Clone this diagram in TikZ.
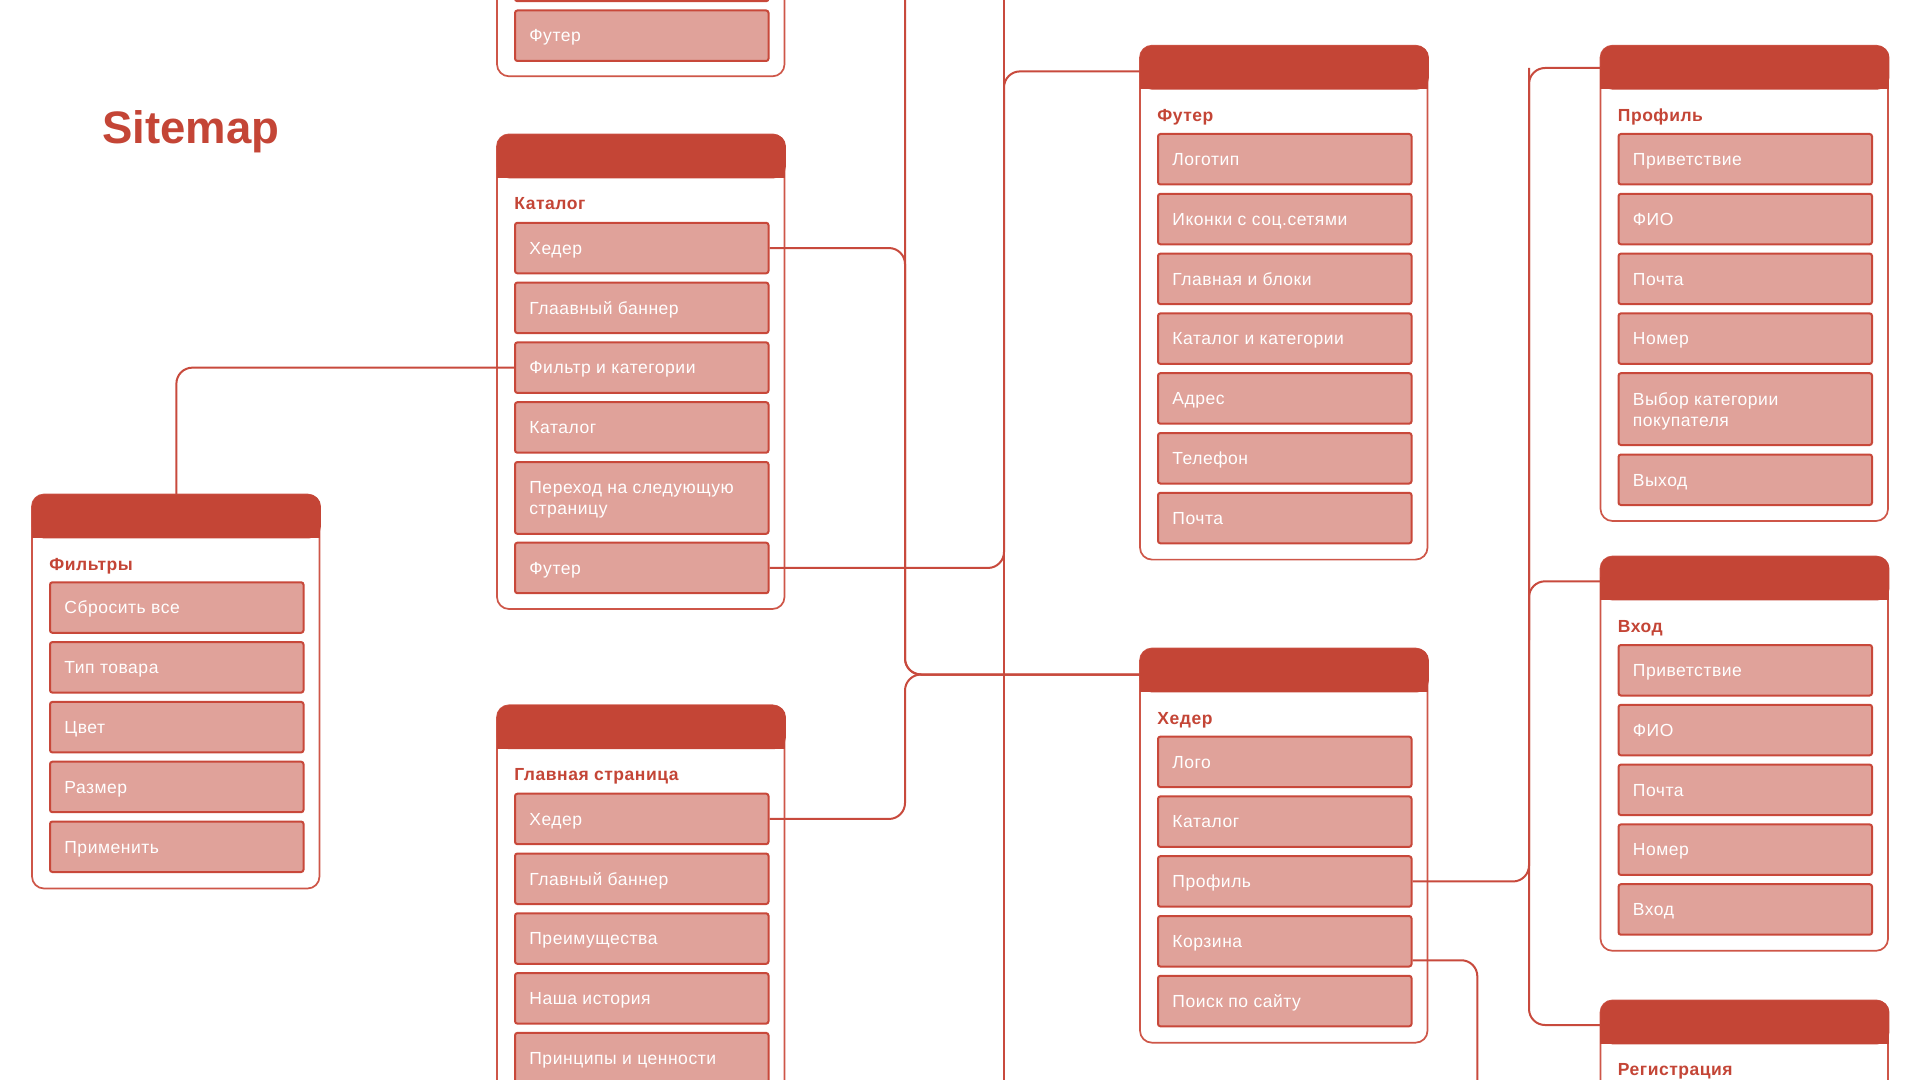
\documentclass[tikz,border=0pt]{standalone}
\usepackage{fontspec}
\setmainfont{Liberation Sans}
\newfontfamily\itemfont[LetterSpace=3]{Liberation Sans}
\definecolor{headred}{HTML}{C44536}
\definecolor{itemfill}{HTML}{E0A29A}
\definecolor{itemline}{HTML}{C8483A}
\definecolor{cardline}{HTML}{CE5648}
\definecolor{connred}{HTML}{C84A3D}
\tikzset{
 cardbody/.style={draw=cardline, fill=white, line width=0.85pt, rounded corners=6pt},
 hdr/.style={fill=headred, rounded corners=6pt, minimum width=144.5pt, minimum height=22pt, inner sep=0pt, anchor=north west},
 item/.style={draw=itemline, fill=itemfill, line width=1pt, rounded corners=1.2pt, minimum width=126.75pt, minimum height=25.25pt, inner sep=0pt, anchor=north west},
 itxt/.style={text=white, font=\itemfont\fontsize{8.75}{10.5}\selectfont, anchor=west, inner sep=0pt, text height=6.25pt, text depth=0pt},
 itxttwo/.style={text=white, font=\itemfont\fontsize{8.75}{10.5}\selectfont, anchor=west, inner sep=0pt, align=left},
 ctitle/.style={text=headred, font=\itemfont\bfseries\fontsize{8.75}{10.5}\selectfont, anchor=base west, inner sep=0pt},
 conn/.style={draw=connred, line width=1pt, rounded corners=8pt},
}
% card: #1 name, #2 x0, #3 top, #4 bottom, #5 title
\newcommand\mkcard[5]{%
  \draw[cardbody] (#2,#3) rectangle ({#2+287.5},#4);
  \node[hdr] (h#1) at ({#2-0.5},{#3-0.5}) {};
  \fill[headred] ({#2-0.5},{#3+20}) rectangle ({#2+288},{#3+43.5});
  \node[ctitle] (t#1) at ({#2+17},{#3+75.5}) {#5};}
% item: #1 name, #2 x0 of card, #3 top, #4 text
\newcommand\mkitem[4]{%
  \node[item] (#1) at ({#2+17},#3) {};
  \node[itxt] (#1t) at ([xshift=7.5pt]#1.west) {#4};}
\newcommand\mkitemtwo[4]{%
  \node[item, minimum height=35.9pt] (#1) at ({#2+17},#3) {};
  \node[itxttwo] (#1t) at ([xshift=7.5pt,yshift=-0.9pt]#1.west) {#4};}
\begin{document}
\begin{tikzpicture}[x=0.5pt,y=-0.5pt]
\useasboundingbox (0,0) rectangle (1920,1080);
\fill[white] (0,0) rectangle (1920,1080);
\clip (0,0) rectangle (1920,1080);

\node[anchor=base west, inner sep=0pt, text=headred, font=\bfseries\fontsize{22.75}{27}\selectfont] (title) at (102,144) {Sitemap};

% Filters card
\mkcard{F}{32}{494.5}{888.5}{Фильтры}
\mkitem{f1}{32}{581.3}{Сбросить все}
\mkitem{f2}{32}{641.1}{Тип товара}
\mkitem{f3}{32}{700.9}{Цвет}
\mkitem{f4}{32}{760.7}{Размер}
\mkitem{f5}{32}{820.5}{Применить}

% Top partial card
\draw[cardbody] (497,-400) rectangle (784.5,76.3);
\node[item] (b1) at (514,-50.3) {};
\mkitem{b2}{497}{9.5}{Футер}

% Catalog card
\mkcard{K}{497}{134.4}{609}{Каталог}
\mkitem{kHed}{497}{221.8}{Хедер}
\mkitem{kBan}{497}{281.6}{Глаавный баннер}
\mkitem{kFil}{497}{341.4}{Фильтр и категории}
\mkitem{kKat}{497}{401.2}{Каталог}
\mkitemtwo{kPer}{497}{461}{Переход на следующую\\страницу}
\mkitem{kFut}{497}{541.7}{Футер}

% Main page card
\mkcard{G}{497}{705.3}{1250}{Главная страница}
\mkitem{gHed}{497}{792.7}{Хедер}
\mkitem{gBan}{497}{852.5}{Главный баннер}
\mkitem{gPre}{497}{912.3}{Преимущества}
\mkitem{gIst}{497}{972.1}{Наша история}
\mkitem{gPri}{497}{1031.9}{Принципы и ценности}

% Footer card
\mkcard{U}{1140}{45.7}{559.6}{Футер}
\mkitem{u1}{1140}{133}{Логотип}
\mkitem{u2}{1140}{192.8}{Иконки с соц.сетями}
\mkitem{u3}{1140}{252.6}{Главная и блоки}
\mkitem{u4}{1140}{312.4}{Каталог и категории}
\mkitem{u5}{1140}{372.2}{Адрес}
\mkitem{u6}{1140}{432}{Телефон}
\mkitem{u7}{1140}{491.8}{Почта}

% Header card
\mkcard{H}{1140}{648.5}{1042.7}{Хедер}
\mkitem{hLog}{1140}{735.6}{Лого}
\mkitem{hKat}{1140}{795.4}{Каталог}
\mkitem{hPro}{1140}{855.2}{Профиль}
\mkitem{hKor}{1140}{915}{Корзина}
\mkitem{hPoi}{1140}{974.8}{Поиск по сайту}

% Profile card
\mkcard{P}{1600.5}{45.7}{521}{Профиль}
\mkitem{p1}{1600.5}{133}{Приветствие}
\mkitem{p2}{1600.5}{192.8}{ФИО}
\mkitem{p3}{1600.5}{252.6}{Почта}
\mkitem{p4}{1600.5}{312.4}{Номер}
\mkitemtwo{p5}{1600.5}{372.2}{Выбор категории\\покупателя}
\mkitem{p6}{1600.5}{453.5}{Выход}

% Login card
\mkcard{V}{1600.5}{556.5}{950.8}{Вход}
\mkitem{v1}{1600.5}{644}{Приветствие}
\mkitem{v2}{1600.5}{703.8}{ФИО}
\mkitem{v3}{1600.5}{763.6}{Почта}
\mkitem{v4}{1600.5}{823.4}{Номер}
\mkitem{v5}{1600.5}{883.2}{Вход}

% Registration card
\mkcard{R}{1600.5}{1000.4}{1300}{Регистрация}

% junction coordinates
\coordinate (j1) at (905,674.5);
\coordinate (inH) at (1140,674.5);
\coordinate (tA) at (905,-10);
\coordinate (j2) at (1004,71.4);
\coordinate (inU) at (1140,71.4);
\coordinate (tB) at (1004,-10);
\coordinate (bB) at (1004,1090);
\coordinate (j3) at (1529,68);
\coordinate (inP) at (1600.5,68);
\coordinate (j4) at (1529,1025);
\coordinate (inR) at (1600.5,1025);
\coordinate (j5) at (1529,581.3);
\coordinate (j5s) at (1529,640);
\coordinate (inV) at (1600.5,581.3);
\coordinate (bK) at (1477.3,1090);

% connectors
\draw[conn] (kFil.west) -| (hF.north);
\draw[conn] (kHed.east) -| (j1) -- (inH);
\draw[conn] (gHed.east) -| (j1) -- (inH);
\draw[conn] (tA) -- (j1) -- (inH);
\draw[conn] (kFut.east) -| (j2) -- (inU);
\draw[conn] (tB) -- (bB);
\draw[conn] (inP) -- (j3) -- (j4) -- (inR);
\draw[conn] (hPro.east) -| (j3);
\draw[conn] (j5s) -- (j5) -- (inV);
\draw[conn] ([yshift=-9.5pt]hKor.east) -| (bK);
\end{tikzpicture}
\end{document}
